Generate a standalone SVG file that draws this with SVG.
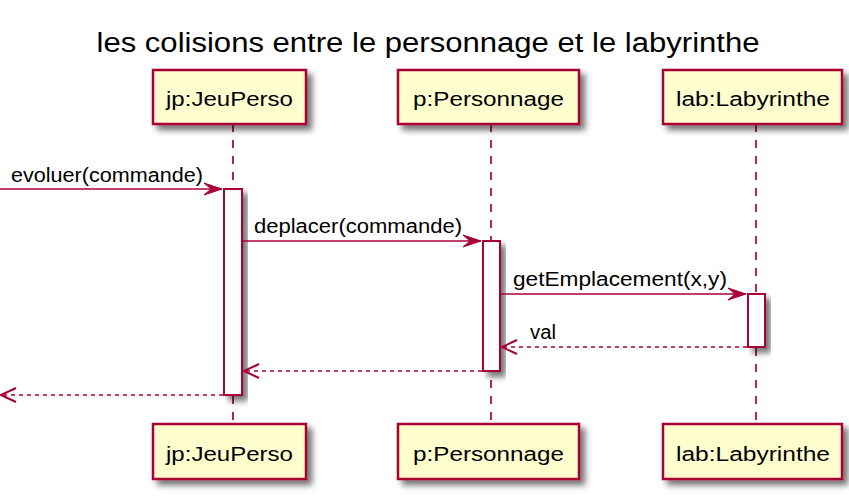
<svg xmlns="http://www.w3.org/2000/svg" width="849" height="502" viewBox="0 0 849 502">
<defs>
<filter id="sh" x="-20%" y="-20%" width="150%" height="150%">
<feGaussianBlur in="SourceAlpha" stdDeviation="3"/>
<feOffset dx="5" dy="5" result="b"/>
<feComponentTransfer><feFuncA type="linear" slope="0.55"/></feComponentTransfer>
<feMerge><feMergeNode/><feMergeNode in="SourceGraphic"/></feMerge>
</filter>
<marker id="fa" markerWidth="20" markerHeight="14" refX="18" refY="7" orient="auto" markerUnits="userSpaceOnUse">
<polygon points="0,1 18,7 0,13 7,7" fill="#A80036" stroke="#A80036" stroke-width="1"/>
</marker>
<marker id="oa" markerWidth="20" markerHeight="16" refX="16" refY="8" orient="auto" markerUnits="userSpaceOnUse">
<polyline points="1,1 16,8 1,15" fill="none" stroke="#A80036" stroke-width="2"/>
</marker>
</defs>
<style>
.box{fill:#FEFECE;stroke:#A80036;stroke-width:2.5;filter:url(#sh)}
.act{fill:#FFFFFF;stroke:#A80036;stroke-width:2;filter:url(#sh)}
.life{stroke:#A80036;stroke-width:1.7;stroke-dasharray:8,8;fill:none}
.msg{stroke:#A80036;stroke-width:1.7;fill:none}
.ret{stroke:#A80036;stroke-width:1.7;fill:none;stroke-dasharray:4,4}
.t{font-family:"Liberation Sans",Arial,sans-serif;fill:#000}
.pt{font-size:20px}
.mt{font-size:20px}
</style>
<rect width="849" height="502" fill="#FFFFFF"/>
<text class="t" x="428" y="52" font-size="27" text-anchor="middle" textLength="663" lengthAdjust="spacingAndGlyphs">les colisions entre le personnage et le labyrinthe</text>
<g id="lifelines">
<line class="life" x1="233" y1="124" x2="233" y2="424"/>
<line class="life" x1="491" y1="124" x2="491" y2="424"/>
<line class="life" x1="756" y1="124" x2="756" y2="424"/>
</g>
<g id="jp">
<rect class="box" x="153" y="70" width="153" height="54"/>
<text class="t pt" x="166" y="106" textLength="127" lengthAdjust="spacingAndGlyphs">jp:JeuPerso</text>
<rect class="box" x="153" y="424" width="153" height="55"/>
<text class="t pt" x="166" y="461" textLength="127" lengthAdjust="spacingAndGlyphs">jp:JeuPerso</text>
</g>
<g id="p">
<rect class="box" x="398" y="70" width="181" height="54"/>
<text class="t pt" x="413" y="106" textLength="151" lengthAdjust="spacingAndGlyphs">p:Personnage</text>
<rect class="box" x="398" y="424" width="181" height="55"/>
<text class="t pt" x="413" y="461" textLength="151" lengthAdjust="spacingAndGlyphs">p:Personnage</text>
</g>
<g id="lab">
<rect class="box" x="663" y="70" width="179" height="54"/>
<text class="t pt" x="676" y="106" textLength="154" lengthAdjust="spacingAndGlyphs">lab:Labyrinthe</text>
<rect class="box" x="663" y="424" width="179" height="55"/>
<text class="t pt" x="676" y="461" textLength="154" lengthAdjust="spacingAndGlyphs">lab:Labyrinthe</text>
</g>
<g id="activations">
<rect class="act" x="224" y="189" width="18" height="206"/>
<rect class="act" x="483" y="241" width="17" height="130"/>
<rect class="act" x="748" y="294" width="17" height="53"/>
</g>
<g id="connectors">
<line class="msg" x1="0" y1="189" x2="222" y2="189" marker-end="url(#fa)"/>
<text class="t mt" x="11" y="182" textLength="192" lengthAdjust="spacingAndGlyphs">evoluer(commande)</text>
<line class="msg" x1="242" y1="241" x2="481" y2="241" marker-end="url(#fa)"/>
<text class="t mt" x="254" y="233" textLength="208" lengthAdjust="spacingAndGlyphs">deplacer(commande)</text>
<line class="msg" x1="500" y1="294" x2="746" y2="294" marker-end="url(#fa)"/>
<text class="t mt" x="513" y="286" textLength="214" lengthAdjust="spacingAndGlyphs">getEmplacement(x,y)</text>
<line class="ret" x1="747" y1="347" x2="502" y2="347" marker-end="url(#oa)"/>
<text class="t mt" x="530" y="339" textLength="26" lengthAdjust="spacingAndGlyphs">val</text>
<line class="ret" x1="482" y1="371" x2="244" y2="371" marker-end="url(#oa)"/>
<line class="ret" x1="223" y1="395" x2="1" y2="395" marker-end="url(#oa)"/>
</g>
</svg>
